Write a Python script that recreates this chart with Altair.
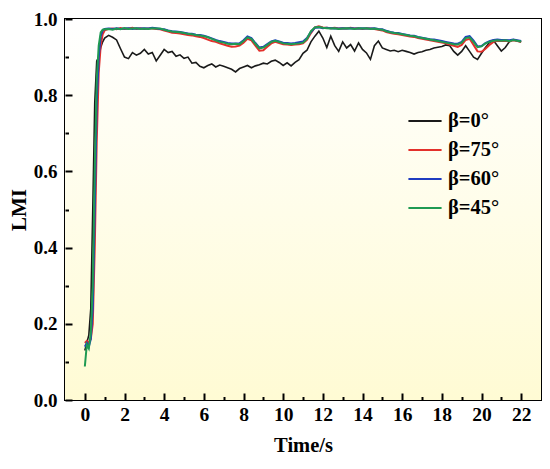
import altair as alt
import pandas as pd

time_s = [0.0, 0.1, 0.2, 0.3, 0.4, 0.5, 0.6, 0.7, 0.8, 0.9, 1.0,
          1.2, 1.4, 1.6, 1.8, 2.0, 2.2, 2.4, 2.6, 2.8, 3.0,
          3.2, 3.4, 3.6, 3.8, 4.0, 4.2, 4.4, 4.6, 4.8, 5.0,
          5.2, 5.4, 5.6, 5.8, 6.0, 6.2, 6.4, 6.6, 6.8, 7.0,
          7.2, 7.4, 7.6, 7.8, 8.0, 8.2, 8.4, 8.6, 8.8, 9.0,
          9.2, 9.4, 9.6, 9.8, 10.0, 10.2, 10.4, 10.6, 10.8, 11.0,
          11.2, 11.4, 11.6, 11.8, 12.0, 12.2, 12.4, 12.6, 12.8, 13.0,
          13.2, 13.4, 13.6, 13.8, 14.0, 14.2, 14.4, 14.6, 14.8, 15.0,
          15.2, 15.4, 15.6, 15.8, 16.0, 16.2, 16.4, 16.6, 16.8, 17.0,
          17.2, 17.4, 17.6, 17.8, 18.0, 18.2, 18.4, 18.6, 18.8, 19.0,
          19.2, 19.4, 19.6, 19.8, 20.0, 20.2, 20.4, 20.6, 20.8, 21.0,
          21.2, 21.4, 21.6, 21.8, 22.0]

lmi_b0 = [0.13, 0.15, 0.17, 0.24, 0.5, 0.78, 0.89, 0.9, 0.925, 0.94, 0.95,
          0.957, 0.952, 0.945, 0.922, 0.9, 0.896, 0.912, 0.905, 0.91, 0.92,
          0.908, 0.912, 0.89, 0.905, 0.92, 0.912, 0.915, 0.902, 0.906, 0.897,
          0.9, 0.884, 0.886, 0.876, 0.872, 0.878, 0.882, 0.874, 0.879, 0.876,
          0.872, 0.868, 0.861, 0.87, 0.874, 0.878, 0.872, 0.877, 0.88, 0.884,
          0.882, 0.889, 0.892, 0.886, 0.878, 0.885, 0.877, 0.886, 0.893, 0.91,
          0.918, 0.94, 0.955, 0.968, 0.95, 0.925, 0.955, 0.93, 0.915, 0.94,
          0.924, 0.933, 0.916, 0.937, 0.92, 0.911, 0.894, 0.93, 0.942, 0.924,
          0.92, 0.916, 0.918, 0.914, 0.918, 0.915, 0.912, 0.908, 0.912, 0.914,
          0.918, 0.92, 0.924, 0.926, 0.928, 0.932, 0.93, 0.915, 0.905, 0.915,
          0.93, 0.915, 0.9, 0.894, 0.91, 0.925, 0.938, 0.944, 0.93, 0.916,
          0.925, 0.94, 0.946, 0.942, 0.94]

lmi_b75 = [0.15, 0.155, 0.15, 0.16, 0.2, 0.4, 0.68, 0.86, 0.93, 0.96, 0.97,
           0.974, 0.975, 0.973, 0.976, 0.974, 0.975, 0.977, 0.974, 0.976, 0.974,
           0.975, 0.975, 0.974, 0.973, 0.97, 0.967, 0.964, 0.963, 0.962, 0.96,
           0.958, 0.957, 0.955, 0.953, 0.95, 0.946, 0.942, 0.94, 0.936, 0.933,
           0.93, 0.927, 0.928, 0.93, 0.938, 0.948, 0.944, 0.93, 0.917, 0.918,
           0.927, 0.936, 0.94, 0.937, 0.934, 0.933, 0.932, 0.933, 0.934, 0.936,
           0.945, 0.963, 0.978, 0.981, 0.978, 0.977, 0.976, 0.977, 0.975, 0.976,
           0.975, 0.977, 0.975, 0.976, 0.974, 0.976, 0.975, 0.974, 0.972, 0.97,
           0.966, 0.963, 0.961, 0.96, 0.958, 0.956, 0.954, 0.953, 0.95, 0.948,
           0.946, 0.944, 0.942, 0.94, 0.938, 0.936, 0.933, 0.93, 0.927, 0.932,
           0.945, 0.948, 0.932, 0.915, 0.914, 0.922, 0.932, 0.94, 0.943, 0.942,
           0.943, 0.941, 0.944, 0.942, 0.94]

lmi_b60 = [0.14, 0.15, 0.14, 0.16, 0.24, 0.5, 0.78, 0.9, 0.955, 0.97, 0.974,
           0.975, 0.974, 0.976, 0.974, 0.975, 0.976, 0.974, 0.976, 0.975, 0.976,
           0.975, 0.977, 0.976, 0.974, 0.973, 0.97, 0.968, 0.967, 0.966, 0.964,
           0.962, 0.961, 0.959, 0.958, 0.956, 0.953, 0.949, 0.945, 0.942, 0.94,
           0.937, 0.936, 0.936, 0.936, 0.944, 0.954, 0.95, 0.937, 0.925, 0.927,
           0.934, 0.941, 0.944, 0.941, 0.938, 0.937, 0.936, 0.937, 0.939, 0.941,
           0.95, 0.966, 0.977, 0.978, 0.976, 0.977, 0.976, 0.975, 0.975, 0.976,
           0.975, 0.976, 0.975, 0.975, 0.976, 0.975, 0.975, 0.976, 0.974, 0.973,
           0.969, 0.966, 0.964, 0.963, 0.961, 0.959, 0.957, 0.956, 0.953, 0.951,
           0.949, 0.947, 0.946, 0.944, 0.942, 0.94, 0.938, 0.936, 0.935, 0.94,
           0.953, 0.955, 0.943, 0.928, 0.929, 0.937, 0.942, 0.945, 0.946, 0.945,
           0.945, 0.944, 0.946, 0.944, 0.942]

lmi_b45 = [0.088, 0.145, 0.135, 0.175, 0.3, 0.6, 0.84, 0.93, 0.965, 0.972, 0.973,
           0.974, 0.972, 0.975, 0.973, 0.976, 0.974, 0.975, 0.976, 0.974, 0.975,
           0.974, 0.976, 0.975, 0.975, 0.972, 0.969, 0.967, 0.966, 0.965, 0.963,
           0.961, 0.96, 0.958, 0.957, 0.955, 0.952, 0.948, 0.944, 0.94, 0.938,
           0.935, 0.934, 0.935, 0.934, 0.942, 0.952, 0.948, 0.935, 0.923, 0.925,
           0.932, 0.94, 0.943, 0.94, 0.936, 0.935, 0.934, 0.935, 0.936, 0.938,
           0.948, 0.968, 0.978, 0.979, 0.977, 0.976, 0.975, 0.976, 0.974, 0.975,
           0.976, 0.975, 0.974, 0.976, 0.975, 0.976, 0.974, 0.975, 0.973, 0.972,
           0.968, 0.965, 0.963, 0.962, 0.96, 0.958, 0.956, 0.955, 0.952, 0.95,
           0.948, 0.946, 0.944, 0.942, 0.94, 0.938, 0.936, 0.934, 0.933, 0.938,
           0.95, 0.952, 0.94, 0.926, 0.928, 0.936, 0.94, 0.943, 0.944, 0.943,
           0.944, 0.942, 0.945, 0.943, 0.941]

series_names = ["β=0°", "β=75°", "β=60°", "β=45°"]
series_colors = ["#1a1a1a", "#e3302b", "#1f3cc0", "#1f9a52"]
series_values = [lmi_b0, lmi_b75, lmi_b60, lmi_b45]

x_major = [0, 2, 4, 6, 8, 10, 12, 14, 16, 18, 20, 22]
x_minor = [1, 3, 5, 7, 9, 11, 13, 15, 17, 19, 21]
y_major = [0.0, 0.2, 0.4, 0.6, 0.8, 1.0]
y_minor = [0.1, 0.3, 0.5, 0.7, 0.9]

W, H = 476, 381
FONT = "Liberation Serif"

xscale = alt.Scale(domain=[-1, 23], nice=False, zero=False)
yscale = alt.Scale(domain=[0, 1], nice=False)
cscale = alt.Scale(domain=series_names, range=series_colors)

legend = alt.Legend(orient="none", legendX=342, legendY=84, title=None,
                    symbolType="stroke", symbolStrokeWidth=2, symbolSize=1100,
                    labelFont=FONT, labelFontWeight="bold", labelFontSize=20.5,
                    labelColor="black", rowPadding=-1, labelOffset=5)

frames = [pd.DataFrame({"t": time_s, "v": vals, "series": name})
          for name, vals in zip(series_names, series_values)]

bg = alt.Chart(pd.DataFrame({"a": [0]})).mark_rect(
    fill=alt.Gradient(gradient="linear",
                      stops=[alt.GradientStop(color="#ffffff", offset=0),
                             alt.GradientStop(color="#fffbd4", offset=1)],
                      x1=0, x2=0, y1=0, y2=1)
).encode(x=alt.value(0), x2=alt.value("width"), y=alt.value(0), y2=alt.value("height"))

main_x = alt.Axis(values=x_major, ticks=False, domain=False, grid=False,
                  labelFont=FONT, labelFontWeight="bold", labelFontSize=19.5,
                  labelColor="black", labelPadding=5, title="Time/s",
                  titleFont=FONT, titleFontWeight="bold", titleFontSize=20.5,
                  titleColor="black", titlePadding=12)
main_y = alt.Axis(values=y_major, format=".1f", ticks=False, domain=False, grid=False,
                  labelFont=FONT, labelFontWeight="bold", labelFontSize=19,
                  labelColor="black", labelPadding=8, title="LMI",
                  titleFont=FONT, titleFontWeight="bold", titleFontSize=21,
                  titleColor="black", titlePadding=4)

layers = [bg]
for i, df in enumerate(frames):
    layers.append(
        alt.Chart(df).mark_line(strokeWidth=2 if i else 1.6).encode(
            x=alt.X("t:Q", scale=xscale, axis=main_x if i == 0 else None),
            y=alt.Y("v:Q", scale=yscale, axis=main_y if i == 0 else None),
            color=alt.Color("series:N", scale=cscale, legend=legend),
        )
    )


def tick_layer(xvals, yvals, size):
    return alt.Chart(frames[0]).mark_line(opacity=0).encode(
        x=alt.X("t:Q", scale=xscale,
                axis=alt.Axis(orient="top", offset=-H, values=xvals, labels=False,
                              domain=False, grid=False, ticks=True, tickSize=size,
                              tickWidth=2, tickColor="black", title=None, zindex=2)),
        y=alt.Y("v:Q", scale=yscale,
                axis=alt.Axis(orient="right", offset=-W, values=yvals, labels=False,
                              domain=False, grid=False, ticks=True, tickSize=size,
                              tickWidth=2, tickColor="black", title=None, zindex=2)),
    )


layers.append(tick_layer(x_major, y_major, 7))
layers.append(tick_layer(x_minor, y_minor, 3.5))

chart = alt.layer(*layers).resolve_axis(x="independent", y="independent").properties(
    width=W, height=H,
    autosize=alt.AutoSizeParams(type="none"),
    padding={"left": 57, "top": 11, "right": 1, "bottom": 61},
).configure_view(stroke="black", strokeWidth=2)

chart.save("out.html", embed_options={"renderer": "svg", "actions": False})
